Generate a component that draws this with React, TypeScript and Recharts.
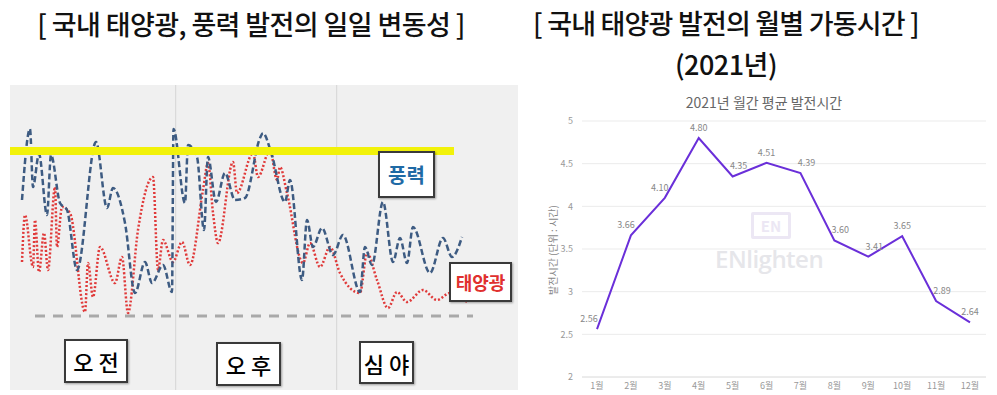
import { CartesianGrid, LabelList, Line, LineChart, ReferenceLine, XAxis, YAxis } from "recharts";

// left panel: daily variability, x = time slot across the day, y = output level (arbitrary)
const windTime = [12, 20, 23, 29, 37, 41, 50, 57, 67, 86, 97, 103, 115, 125, 135, 142, 153, 162, 163.5, 175, 178, 187, 194, 198, 206, 215, 225, 235, 250, 253, 261, 275, 280, 292, 297, 303, 312, 323, 333, 350, 355, 362, 373, 383, 390, 397, 403, 420, 433, 442, 452];
const windLevel = [190, 261, 203, 236, 175, 235, 187, 180, 120, 248, 182, 202, 167, 97, 128, 107, 125, 98, 261, 187, 245, 233, 160, 233, 188, 217, 190, 192, 252, 257, 238, 188, 210, 110, 170, 143, 162, 135, 155, 98, 143, 125, 188, 128, 152, 127, 163, 117, 152, 133, 153];

const solarTime = [12, 15, 23, 25, 29, 34, 38, 45, 47, 52, 60, 75, 78, 83, 90, 105, 112, 118, 128, 143, 148, 153, 163, 172, 180, 193, 198, 203, 208, 223, 227, 243, 248, 260, 267, 270, 277, 293, 300, 310, 320, 330, 350, 357, 367, 378, 387, 397, 413, 427, 440, 457];
const solarLevel = [128, 175, 123, 170, 118, 157, 120, 203, 143, 183, 177, 78, 127, 93, 143, 107, 133, 77, 160, 213, 120, 150, 128, 148, 125, 200, 227, 177, 147, 228, 197, 237, 213, 240, 210, 223, 197, 127, 147, 123, 143, 117, 97, 137, 110, 82, 98, 88, 100, 90, 97, 88];

const dayParts = ["오 전", "오 후", "심 야"];

// right panel: 2021 monthly average generation hours
const months = ["1월", "2월", "3월", "4월", "5월", "6월", "7월", "8월", "9월", "10월", "11월", "12월"];
const hours = [2.56, 3.66, 4.1, 4.8, 4.35, 4.51, 4.39, 3.6, 3.41, 3.65, 2.89, 2.64];
const hourTicks = [2, 2.5, 3, 3.5, 4, 4.5, 5];

const windData = windTime.map((t, i) => ({ t, v: windLevel[i] }));
const solarData = solarTime.map((t, i) => ({ t, v: solarLevel[i] }));
const monthData = months.map((m, i) => ({ m, h: hours[i] }));

const kr = '"Noto Sans CJK KR", "Noto Sans", sans-serif';

const box = (left: number, top: number, w: number, h: number): React.CSSProperties => ({
  position: "absolute",
  left,
  top,
  width: w,
  height: h,
  background: "#fff",
  border: "2px solid #3a3a3a",
  boxShadow: "1px 1px 2px rgba(0,0,0,0.35)",
  boxSizing: "border-box",
  display: "flex",
  alignItems: "center",
  justifyContent: "center",
  fontFamily: kr,
  fontWeight: 700,
  fontSize: 20,
});

const heading = (left: number, top: number, spacing: number): React.CSSProperties => ({
  position: "absolute",
  left,
  top,
  width: 500,
  textAlign: "center",
  fontSize: 27,
  fontWeight: 500,
  color: "#111",
  letterSpacing: spacing,
  lineHeight: "27px",
  whiteSpace: "nowrap",
});

// nudge the value label away from the line it sits on
function ValueLabel(props: any) {
  const { x, y, value, index } = props;
  const prev = hours[index - 1];
  const next = hours[index + 1];
  let dx = 0;
  if (prev === undefined) dx = -8;
  else if (next === undefined) dx = 0;
  else if (value > prev && value > next) dx = 0;
  else dx = value > prev ? -5 : 6;
  return (
    <text x={x + dx} y={y - 7} textAnchor="middle" fill="#888" fontSize={9} fontFamily={kr}>
      {Number(value).toFixed(2)}
    </text>
  );
}

export default function App() {
  return (
    <div style={{ position: "absolute", left: 0, top: 0, width: 997, height: 395, background: "#fff", overflow: "hidden", fontFamily: kr }}>
      <div style={heading(1, 10, -0.6)}>[ 국내 태양광, 풍력 발전의 일일 변동성 ]</div>
      <div style={heading(476, 9, -0.8)}>[ 국내 태양광 발전의 월별 가동시간 ]</div>
      <div style={heading(476, 50, -0.5)}>(2021년)</div>

      {/* left panel */}
      <div style={{ position: "absolute", left: 10, top: 85, width: 508, height: 305, background: "#f0f0f0" }}>
        <LineChart width={508} height={305} margin={{ top: 0, right: 0, bottom: 0, left: 0 }}>
          <XAxis type="number" dataKey="t" domain={[0, 508]} hide allowDataOverflow />
          <YAxis type="number" domain={[0, 305]} hide allowDataOverflow />
          <ReferenceLine x={165.7} stroke="#d6d6d6" strokeWidth={1} />
          <ReferenceLine x={326.7} stroke="#d6d6d6" strokeWidth={1} />
          <ReferenceLine segment={[{ x: 25, y: 74 }, { x: 463, y: 74 }]} stroke="#a9a9a9" strokeWidth={3} strokeDasharray="10 8" />
          <Line data={solarData} dataKey="v" type="monotone" stroke="#e03a3a" strokeWidth={2.5} strokeDasharray="2 2" dot={false} isAnimationActive={false} />
          <Line data={windData} dataKey="v" type="monotone" stroke="#3d5b82" strokeWidth={2.5} strokeDasharray="6 3" dot={false} isAnimationActive={false} />
          <ReferenceLine segment={[{ x: 0, y: 239 }, { x: 444, y: 239 }]} stroke="#f2f20a" strokeWidth={8} />
        </LineChart>
      </div>
      <div style={{ ...box(378, 151, 57, 47), color: "#1f6aa5" }}>풍력</div>
      <div style={{ ...box(449, 262, 63, 40), color: "#e0302e", fontSize: 18 }}>태양광</div>
      <div style={{ ...box(64, 339, 64, 44), fontWeight: 500, fontSize: 22 }}>{dayParts[0]}</div>
      <div style={{ ...box(216, 342, 65, 44), fontWeight: 500, fontSize: 22 }}>{dayParts[1]}</div>
      <div style={{ ...box(359, 341, 55, 43), fontWeight: 500, fontSize: 22 }}>{dayParts[2]}</div>

      {/* right panel */}
      <div style={{ position: "absolute", left: 674, top: 92, width: 180, textAlign: "center", fontSize: 14, color: "#666" }}>
        2021년 월간 평균 발전시간
      </div>
      <div style={{ position: "absolute", left: 715, top: 210, width: 130, height: 60, pointerEvents: "none" }}>
        <div style={{ position: "absolute", left: 36, top: 2, width: 40, height: 27, border: "3px solid #ece7f4", borderRadius: 2, boxSizing: "border-box", color: "#ece7f4", fontSize: 15, fontWeight: 700, textAlign: "center", lineHeight: "21px" }}>EN</div>
        <div style={{ position: "absolute", left: 0, top: 32, fontFamily: "'Open Sans', sans-serif", fontSize: 24, fontWeight: 600, color: "#e6e6ea", letterSpacing: -0.5 }}>ENlighten</div>
      </div>
      <div style={{ position: "absolute", left: 552, top: 250, transform: "translate(-50%, -50%) rotate(-90deg)", fontSize: 10, color: "#888", whiteSpace: "nowrap" }}>
        발전시간 (단위 : 시간)
      </div>
      <div style={{ position: "absolute", left: 520, top: 85 }}>
        <LineChart width={477} height={310} data={monthData} margin={{ top: 36, right: 11, bottom: 4, left: 2 }}>
          <CartesianGrid vertical={false} stroke="#ebebeb" />
          <XAxis dataKey="m" height={14} padding={{ left: 15, right: 16 }} tickLine={false} axisLine={{ stroke: "#e2e2e2" }} tickSize={0} tickMargin={6} tick={{ fill: "#999", fontSize: 9, fontFamily: kr }} interval={0} />
          <YAxis domain={[2, 5]} ticks={hourTicks} width={60} tickLine={false} axisLine={false} tickSize={0} tickMargin={9} tick={{ fill: "#999", fontSize: 9, fontFamily: kr }} />
          <Line dataKey="h" type="linear" stroke="#6a2fd9" strokeWidth={2} dot={false} isAnimationActive={false}>
            <LabelList dataKey="h" content={ValueLabel} />
          </Line>
        </LineChart>
      </div>
    </div>
  );
}
